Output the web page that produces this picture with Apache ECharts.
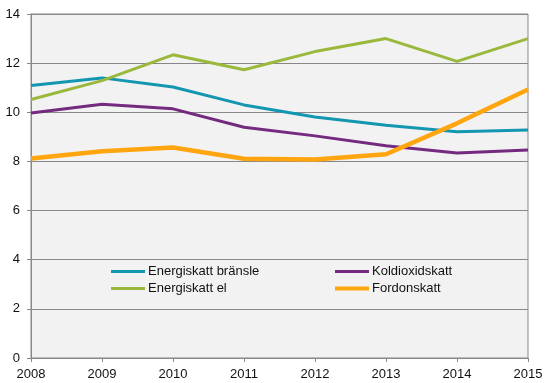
<!DOCTYPE html>
<html><head><meta charset="utf-8">
<script src="https://cdn.jsdelivr.net/npm/echarts@6/dist/echarts.min.js"></script>
<style>html,body{margin:0;padding:0;background:#fff}#c{width:548px;height:383px}</style>
</head><body><div id="c"></div>
<script>
const years = ['2008','2009','2010','2011','2012','2013','2014','2015'];
const energiskattBransle = [11.09, 11.40, 11.03, 10.30, 9.81, 9.47, 9.21, 9.28];
const energiskattEl = [10.52, 11.29, 12.34, 11.73, 12.47, 13.00, 12.07, 13.00];
const koldioxidskatt = [9.97, 10.33, 10.14, 9.39, 9.04, 8.64, 8.34, 8.47];
const fordonskatt = [8.12, 8.41, 8.57, 8.11, 8.08, 8.29, 9.55, 10.93];
const seriesNames = ['Energiskatt bränsle','Koldioxidskatt','Energiskatt el','Fordonskatt'];

const colors = {
  'Energiskatt bränsle':'#1396b0',
  'Koldioxidskatt':'#742a7f',
  'Energiskatt el':'#9ab93c',
  'Fordonskatt':'#ffa50f'
};
const chart = echarts.init(document.getElementById('c'), null, {renderer:'canvas'});
const font = 'Liberation Sans, Arial, sans-serif';
function leg(name, left, top){
  return {data:[{name:name, icon:'rect'}], left:left, top:top, itemWidth:34, itemHeight: name==='Fordonskatt'?4:3,
    padding:0, textStyle:{fontFamily:font,fontSize:13,color:'#111',padding:[0,0,0,-2]}, selectedMode:false};
}
function line(name, data, w){
  return {name:name, type:'line', data:data, symbol:'none', smooth:false, animation:false,
    lineStyle:{color:colors[name], width:w}, itemStyle:{color:colors[name]}, z: name==='Fordonskatt'?5:3};
}
chart.setOption({
  animation:false,
  grid:{left:31,right:20,top:14,bottom:25,show:true,backgroundColor:'#f2f2f2',borderColor:'#888',borderWidth:1},
  legend:[leg(seriesNames[0],111,265), leg(seriesNames[1],335,265), leg(seriesNames[2],111,282), leg(seriesNames[3],335,282)],
  xAxis:{type:'category',data:years,boundaryGap:false,
    axisLine:{lineStyle:{color:'#888'}},axisTick:{show:true,length:4,lineStyle:{color:'#888'}},
    axisLabel:{fontFamily:font,fontSize:13,color:'#111',margin:10},splitLine:{show:false}},
  yAxis:{type:'value',min:0,max:14,interval:2,
    axisLine:{show:true,lineStyle:{color:'#888'}},axisTick:{show:true,length:4,lineStyle:{color:'#888'}},
    axisLabel:{fontFamily:font,fontSize:13,color:'#111',margin:11},
    splitLine:{show:true,lineStyle:{color:'#888',width:1}}},
  series:[
    line('Energiskatt bränsle', energiskattBransle, 3),
    line('Koldioxidskatt', koldioxidskatt, 3),
    line('Energiskatt el', energiskattEl, 3),
    line('Fordonskatt', fordonskatt, 4.5)
  ]
});
</script></body></html>
